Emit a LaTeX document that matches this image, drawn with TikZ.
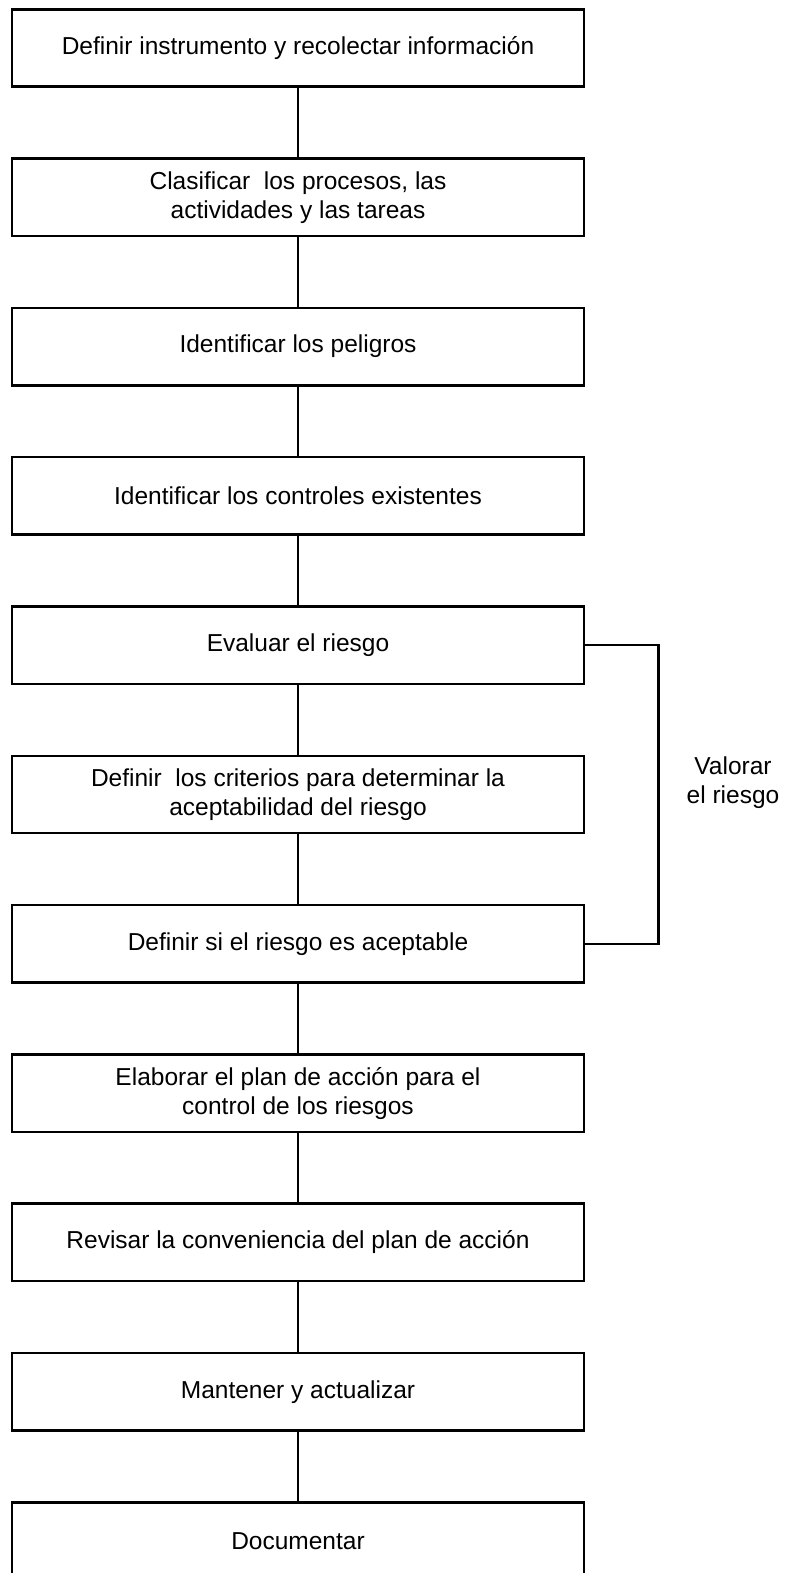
\documentclass[tikz,border=0pt]{standalone}
\usepackage{fontspec}
\setmainfont{Liberation Sans}
\usetikzlibrary{positioning}
\begin{document}
\begin{tikzpicture}[x=1pt, y=1pt, node distance={149.3pt}, line width=2.5pt,
  main/.style = {draw, rectangle, minimum width=572pt, minimum height=77.4pt, align=center, font=\fontsize{24.5pt}{29pt}\selectfont}]
\useasboundingbox (0,0) rectangle (790,-1573);
\node[main] (1) at (298,-48) {Definir instrumento y recolectar información};
\node[main] (2) [below of=1] {Clasificar\ \ los procesos, las\\actividades y las tareas};
\node[main] (3) [below of=2] {Identificar los peligros};
\node[main] (4) [below of=3] {Identificar los controles existentes};
\node[main] (5) [below of=4] {Evaluar el riesgo};
\node[main] (6) [below of=5] {Definir\ \ los criterios para determinar la\\aceptabilidad del riesgo};
\node[main] (7) [below of=6] {Definir si el riesgo es aceptable};
\node[main] (8) [below of=7] {Elaborar el plan de acción para el\\control de los riesgos};
\node[main] (9) [below of=8] {Revisar la conveniencia del plan de acción};
\node[main] (10) [below of=9] {Mantener y actualizar};
\node[main] (11) [below of=10] {Documentar};
\node[align=center, font=\fontsize{24.5pt}{29pt}\selectfont] (12) at (733,-783) {Valorar\\el riesgo};


\draw (1) -- (2);
\draw (2) -- (3);
\draw (3) -- (4);
\draw (4) -- (5);
\draw (5) -- (6);
\draw (6) -- (7);
\draw (7) -- (8);
\draw (8) -- (9);
\draw (9) -- (10);
\draw (10) -- (11);
\draw (5.east) -- ++(73,0) |- (7.east);

\end{tikzpicture}
\end{document}
